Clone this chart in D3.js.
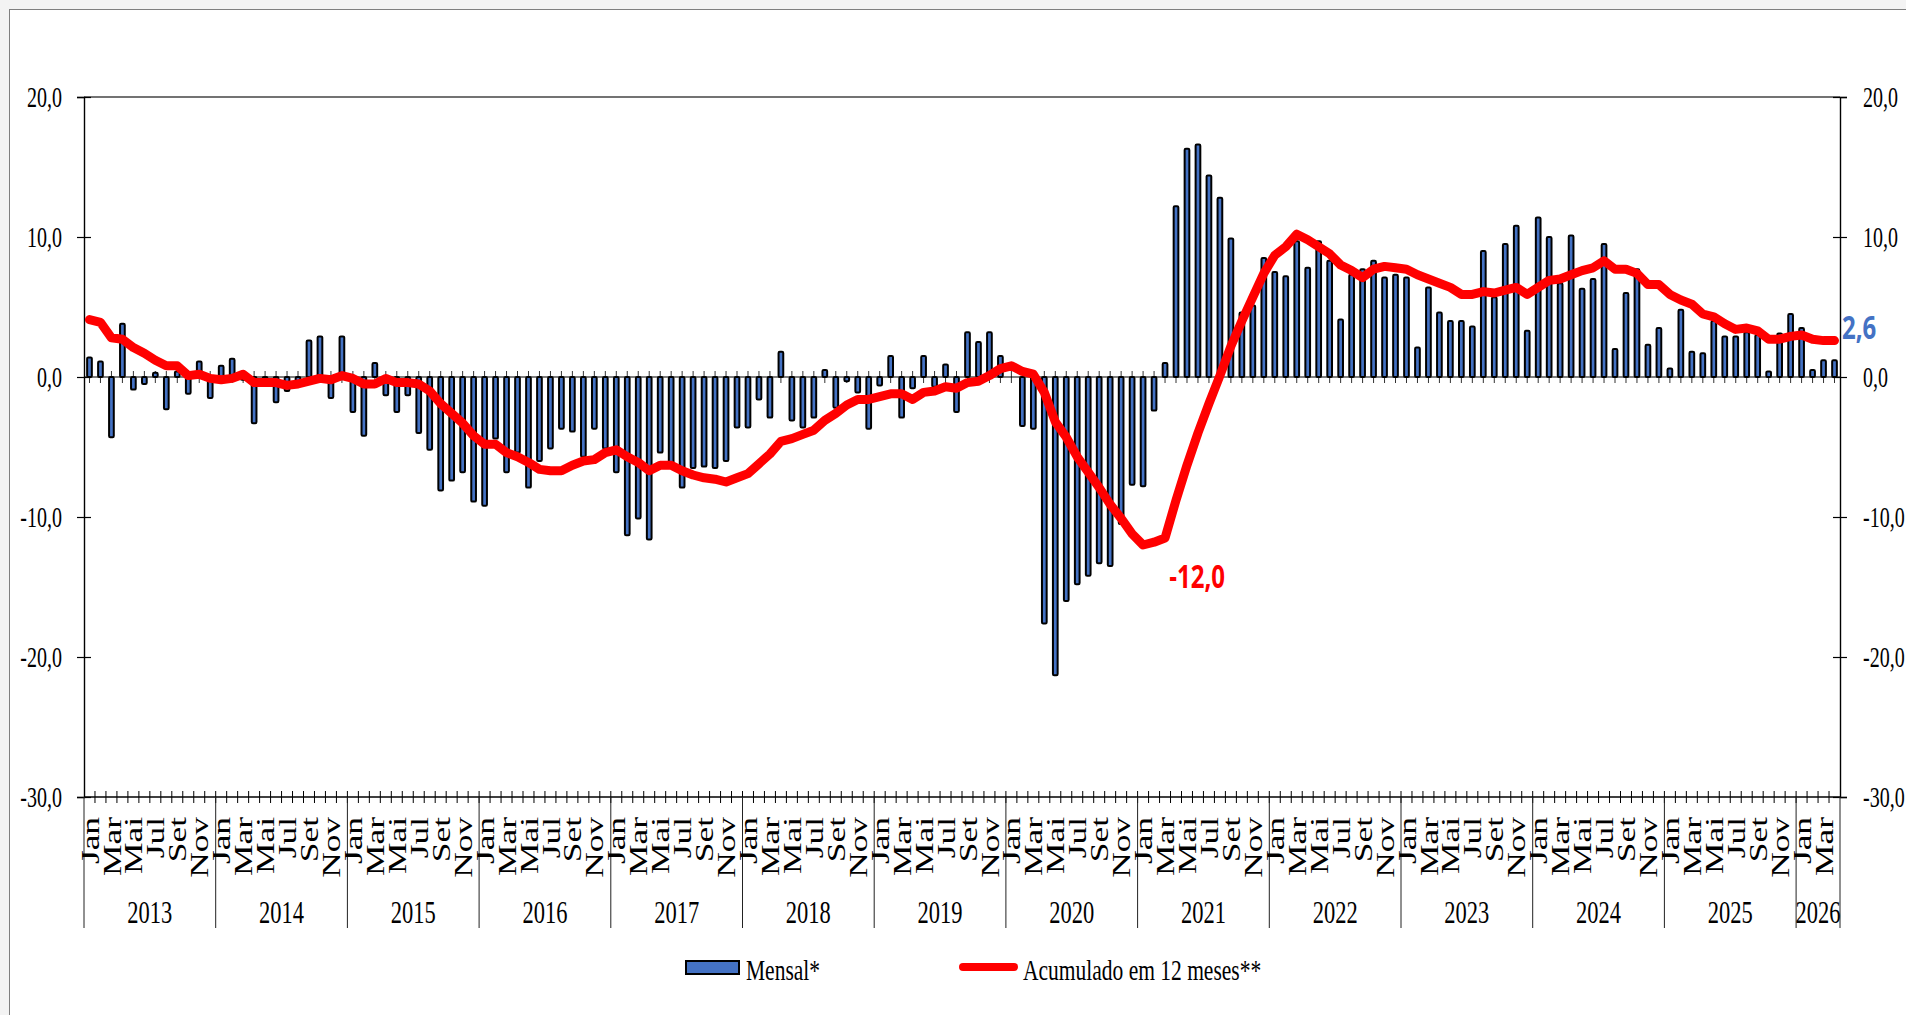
<!DOCTYPE html>
<html lang="pt-BR">
<head>
<meta charset="utf-8">
<title>Mensal e acumulado em 12 meses</title>
<script src="https://cdn.jsdelivr.net/npm/d3@7"></script>
<style>
  html, body { margin: 0; padding: 0; background: #f3f3f3; }
  svg { display: block; }
  .serif { font-family: "Liberation Serif", "Times New Roman", serif; fill: #000; }
  .note { font-family: "Open Sans", "Noto Sans", sans-serif; font-weight: 700; }
</style>
</head>
<body>
<svg id="chart" width="1906" height="1015"></svg>
<script>
// months Jan/2013 .. Abr/2026
const years = [2013, 2014, 2015, 2016, 2017, 2018, 2019, 2020, 2021, 2022, 2023, 2024, 2025, 2026];
const monthLabels = ['Jan', 'Mar', 'Mai', 'Jul', 'Set', 'Nov'];
const yTicks = [20, 10, 0, -10, -20, -30];

// Mensal* (%)
const mensal = [
  1.4, 1.1, -4.3, 3.8, -0.9, -0.5, 0.3, -2.3, 0.4, -1.2, 1.1, -1.5,
  0.8, 1.3, -0.2, -3.3, -0.2, -1.8, -1.0, -0.3, 2.6, 2.9, -1.5, 2.9,
  -2.5, -4.2, 1.0, -1.3, -2.5, -1.3, -4.0, -5.2, -8.1, -7.4, -6.8, -8.9,
  -9.2, -4.4, -6.8, -5.4, -7.9, -6.0, -5.1, -3.7, -3.9, -5.7, -3.7, -5.1,
  -6.8, -11.3, -10.1, -11.6, -5.4, -6.2, -7.9, -6.5, -6.4, -6.5, -6.0, -3.6,
  -3.6, -1.6, -2.9, 1.8, -3.1, -3.6, -2.9, 0.5, -2.2, -0.3, -1.1, -3.7,
  -0.6, 1.5, -2.9, -0.8, 1.5, -0.7, 0.9, -2.5, 3.2, 2.5, 3.2, 1.5,
  0.0, -3.5, -3.7, -17.6, -21.3, -16.0, -14.8, -14.2, -13.3, -13.5, -10.5, -7.7,
  -7.8, -2.4, 1.0, 12.2, 16.3, 16.6, 14.4, 12.8, 9.9, 4.6, 5.1, 8.5,
  7.5, 7.2, 9.7, 7.8, 9.7, 8.3, 4.1, 7.3, 7.7, 8.3, 7.1, 7.3,
  7.1, 2.1, 6.4, 4.6, 4.0, 4.0, 3.6, 9.0, 5.7, 9.5, 10.8, 3.3,
  11.4, 10.0, 6.7, 10.1, 6.3, 7.0, 9.5, 2.0, 6.0, 7.7, 2.3, 3.5,
  0.6, 4.8, 1.8, 1.7, 4.0, 2.9, 2.9, 3.2, 3.0, 0.4, 3.1, 4.5,
  3.5, 0.5, 1.2, 1.2
];

// Acumulado em 12 meses** (%)
const acumulado = [
  4.1, 3.9, 2.8, 2.7, 2.1, 1.7, 1.2, 0.8, 0.8, 0.1, 0.2, -0.1,
  -0.2, -0.1, 0.2, -0.4, -0.4, -0.4, -0.6, -0.5, -0.3, -0.1, -0.2, 0.1,
  -0.1, -0.5, -0.5, -0.1, -0.4, -0.4, -0.5, -1.0, -1.9, -2.6, -3.3, -4.2,
  -4.8, -4.8, -5.4, -5.7, -6.1, -6.6, -6.7, -6.7, -6.3, -6.0, -5.9, -5.4,
  -5.2, -5.7, -6.1, -6.7, -6.3, -6.3, -6.7, -7.0, -7.2, -7.3, -7.5, -7.2,
  -6.9, -6.2, -5.5, -4.6, -4.4, -4.1, -3.8, -3.1, -2.6, -2.0, -1.6, -1.6,
  -1.4, -1.2, -1.2, -1.6, -1.1, -1.0, -0.7, -0.8, -0.4, -0.3, 0.1, 0.6,
  0.8, 0.4, 0.2, -1.1, -3.2, -4.3, -5.7, -6.8, -7.9, -9.1, -10.1, -11.2,
  -12.0, -11.8, -11.5, -8.8, -6.3, -4.0, -1.9, 0.1, 2.2, 4.0, 5.7, 7.4,
  8.7, 9.3, 10.2, 9.8, 9.3, 8.8, 8.0, 7.6, 7.1, 7.7, 7.9, 7.8,
  7.7, 7.3, 7.0, 6.7, 6.4, 5.9, 5.9, 6.1, 6.0, 6.2, 6.4, 5.9,
  6.4, 6.9, 7.0, 7.3, 7.6, 7.8, 8.3, 7.7, 7.7, 7.4, 6.6, 6.6,
  5.9, 5.5, 5.2, 4.5, 4.3, 3.8, 3.4, 3.5, 3.3, 2.7, 2.7, 2.9,
  3.0, 2.7, 2.6, 2.6
];

(function () {
  const BLUE = '#4472c4';
  const RED = '#ff0000';
  const X0 = 84, X1 = 1840, YT = 97, YB = 797;
  const STRETCH = 1.42; // the source picture is stretched vertically

  const svg = d3.select('#chart');
  const n = mensal.length;

  svg.append('rect')
    .attr('x', 9.5).attr('y', 9.5)
    .attr('width', 1920).attr('height', 1020)
    .attr('fill', '#fff').attr('stroke', '#7f7f7f');

  const x = d3.scaleBand().domain(d3.range(n)).range([X0, X1]).padding(0);
  const y = d3.scaleLinear().domain([-30, 20]).range([YB, YT]);
  const cx = (i) => x(i) + x.bandwidth() / 2;

  // frame of the plot
  svg.append('line').attr('x1', X0).attr('x2', X1).attr('y1', YT).attr('y2', YT)
    .attr('stroke', '#444').attr('stroke-width', 1.3);

  // value axes (ticks cross the axis line)
  const left = svg.append('g').attr('transform', 'translate(' + X0 + ',0)')
    .call(d3.axisLeft(y).tickValues(yTicks).tickSize(7).tickFormat(''));
  const right = svg.append('g').attr('transform', 'translate(' + X1 + ',0)')
    .call(d3.axisRight(y).tickValues(yTicks).tickSize(7).tickFormat(''));
  [left, right].forEach((g) => {
    g.select('.domain').attr('stroke', '#000').attr('stroke-width', 1.4);
    g.selectAll('.tick line').attr('x1', -7).attr('x2', 7).attr('stroke', '#000').attr('stroke-width', 1.2);
  });

  const fmt = (v) => d3.format('.1f')(v).replace('.', ',').replace('−', '-');
  yTicks.forEach((v) => {
    svg.append('text').attr('class', 'serif')
      .attr('transform', 'translate(62,' + y(v) + ') scale(1,' + STRETCH + ')')
      .attr('text-anchor', 'end').attr('dy', '0.35em')
      .attr('font-size', 20).text(fmt(v));
    svg.append('text').attr('class', 'serif')
      .attr('transform', 'translate(1863,' + y(v) + ') scale(1,' + STRETCH + ')')
      .attr('dy', '0.35em')
      .attr('font-size', 20).text(fmt(v));
  });

  // zero line with month ticks
  const y0 = y(0);
  svg.append('g').selectAll('line').data(d3.range(n)).join('line')
    .attr('x1', cx).attr('x2', cx).attr('y1', y0 - 6).attr('y2', y0 + 6)
    .attr('stroke', '#333').attr('stroke-width', 1);
  svg.append('line').attr('x1', X0).attr('x2', X1).attr('y1', y0).attr('y2', y0)
    .attr('stroke', '#000').attr('stroke-width', 1.2);

  // bottom category axis
  svg.append('line').attr('x1', X0).attr('x2', X1).attr('y1', YB).attr('y2', YB)
    .attr('stroke', '#000').attr('stroke-width', 1.4);
  svg.append('g').selectAll('line').data(d3.range(1, n)).join('line')
    .attr('x1', (i) => x(i)).attr('x2', (i) => x(i)).attr('y1', YB - 6).attr('y2', YB + 6)
    .attr('stroke', '#000').attr('stroke-width', 1);

  const seps = d3.range(0, n, 12).concat([n]);
  svg.append('g').selectAll('line').data(seps).join('line')
    .attr('x1', (i) => (i === n ? X1 : x(i))).attr('x2', (i) => (i === n ? X1 : x(i)))
    .attr('y1', YB).attr('y2', 928)
    .attr('stroke', '#222').attr('stroke-width', 1);

  svg.append('g').selectAll('text').data(d3.range(0, n, 2)).join('text')
    .attr('class', 'serif')
    .attr('transform', (i) => 'translate(' + cx(i) + ',817) rotate(-90) scale(1.36,1)')
    .attr('text-anchor', 'end').attr('dy', '0.35em')
    .attr('font-size', 26)
    .text((i) => monthLabels[(i % 12) / 2]);

  years.forEach((yr, k) => {
    const a = x(k * 12);
    const b = Math.min(k * 12 + 12, n) === n ? X1 : x(k * 12 + 12);
    svg.append('text').attr('class', 'serif')
      .attr('transform', 'translate(' + (a + b) / 2 + ',912) scale(1,1.45)')
      .attr('text-anchor', 'middle').attr('dy', '0.35em')
      .attr('font-size', 22.5).text(yr);
  });

  // monthly bars
  const bw = 4.7;
  svg.append('g').selectAll('rect').data(mensal).join('rect')
    .attr('x', (d, i) => cx(i) - bw / 2)
    .attr('y', (d) => y(Math.max(0, d)))
    .attr('width', bw)
    .attr('height', (d) => Math.abs(y(d) - y0))
    .attr('rx', 1.2)
    .attr('fill', BLUE).attr('stroke', '#000').attr('stroke-width', 2);

  // 12-month accumulated line
  const line = d3.line().x((d, i) => cx(i)).y((d) => y(d));
  svg.append('path').datum(acumulado)
    .attr('d', line)
    .attr('fill', 'none').attr('stroke', RED).attr('stroke-width', 9)
    .attr('stroke-linejoin', 'round').attr('stroke-linecap', 'round');

  // callouts
  const iMin = d3.minIndex(acumulado);
  svg.append('text').attr('class', 'note')
    .attr('transform', 'translate(' + (cx(iMin) + 54) + ',' + (y(acumulado[iMin]) + 32) + ') scale(1,1.35)')
    .attr('text-anchor', 'middle').attr('dy', '0.35em')
    .attr('font-size', 24).attr('fill', RED)
    .text(fmt(acumulado[iMin]));
  svg.append('text').attr('class', 'note')
    .attr('transform', 'translate(1842,' + (y(acumulado[n - 1]) - 13) + ') scale(1,1.35)')
    .attr('dy', '0.35em')
    .attr('font-size', 24).attr('fill', BLUE)
    .text(fmt(acumulado[n - 1]));

  // legend
  svg.append('rect').attr('x', 686).attr('y', 961).attr('width', 53).attr('height', 13)
    .attr('fill', BLUE).attr('stroke', '#000').attr('stroke-width', 2);
  svg.append('text').attr('class', 'serif')
    .attr('transform', 'translate(746,970) scale(1,1.35)').attr('dy', '0.35em')
    .attr('font-size', 21.5).text('Mensal*');
  svg.append('line').attr('x1', 963).attr('x2', 1014).attr('y1', 967).attr('y2', 967)
    .attr('stroke', RED).attr('stroke-width', 8).attr('stroke-linecap', 'round');
  svg.append('text').attr('class', 'serif')
    .attr('transform', 'translate(1023,970) scale(1,1.35)').attr('dy', '0.35em')
    .attr('font-size', 21.5).text('Acumulado em 12 meses**');
})();
</script>
</body>
</html>
